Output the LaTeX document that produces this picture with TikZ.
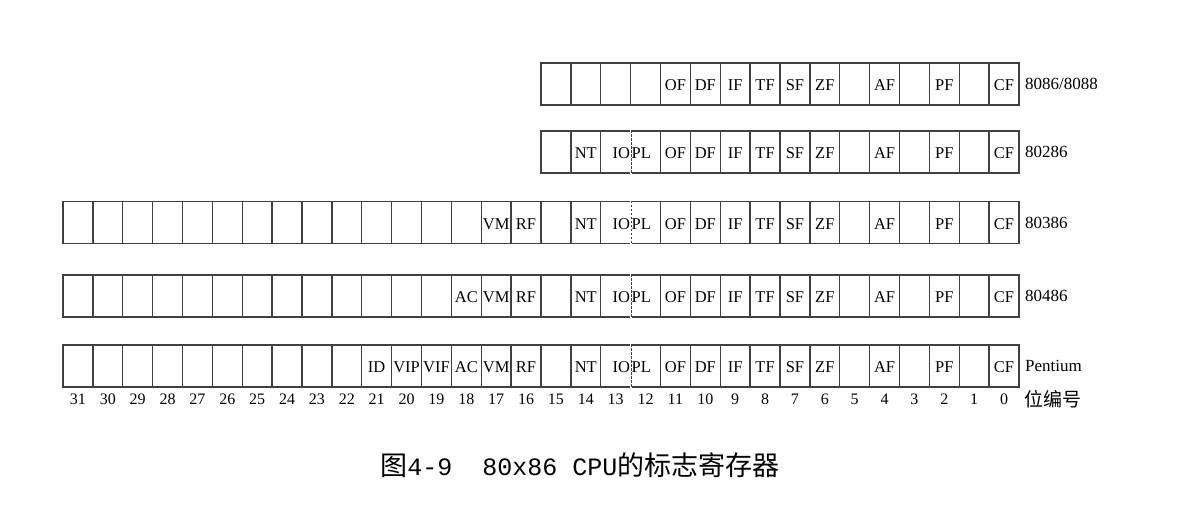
\documentclass[tikz,border=0pt]{standalone}
\usepackage{fontspec}
\setmainfont{Liberation Serif}
\newfontfamily\cjk{Noto Sans CJK SC}
\newfontfamily\capmono{Liberation Mono}
\usetikzlibrary{positioning}

\def\cw{29.875}
\tikzset{
  reg/.style={draw=black!75, line width=1.4pt, minimum width=\cw pt, minimum height=42pt, inner sep=0pt},
  flag/.style={inner sep=0pt, font=\fontsize{16.5}{19}\selectfont, yshift=-1.5pt},
  cpu/.style={anchor=west, inner sep=0pt, font=\fontsize{17}{20}\selectfont},
  bitno/.style={inner sep=0pt, font=\fontsize{16}{19}\selectfont}
}

\begin{document}
\begin{tikzpicture}[x=1pt,y=-1pt]
\useasboundingbox (0,0) rectangle (1178,504);
% register cells, one row per CPU
\foreach \r/\y/\n/\cpuname in {a/84/15/8086\slash8088, b/152/15/80286, c/222.5/31/80386, d/296/31/80486, e/366/31/Pentium}{
  \foreach \b in {0,...,\n}
    \node[reg] (\r-\b) at ({1019-\b*\cw-\cw/2},\y) {};
  \node[cpu] (\r-name) at (1025,\y) {\cpuname};
  \foreach \b/\t in {11/OF,10/DF,9/IF,8/TF,7/SF,6/ZF,4/AF,2/PF,0/CF}
    \node[flag] (\r-t\b) at (\r-\b) {\t};
}
% IOPL and NT from 80286 on
\foreach \r in {b,c,d,e}{
  \node[flag] (\r-t14) at (\r-14) {NT};
  \node[flag, anchor=east, xshift=-1pt] (\r-t13) at (\r-13.east) {IO};
  \node[flag, anchor=west, xshift=1.5pt] (\r-t12) at (\r-12.west) {PL};
  \draw[white, line width=1.8pt] (\r-13.north east) -- (\r-13.south east);
  \draw[black!75, line width=1pt, dashed, dash pattern=on 2.5pt off 1.5pt] (\r-13.north east) -- (\r-13.south east);
}
\foreach \r in {c,d,e}{
  \node[flag] (\r-t17) at (\r-17) {VM};
  \node[flag] (\r-t16) at (\r-16) {RF};
}
\foreach \r in {d,e}
  \node[flag] (\r-t18) at (\r-18) {AC};
\foreach \b/\t in {21/ID,20/VIP,19/VIF}
  \node[flag] (e-t\b) at (e-\b) {\t};
% bit numbers
\foreach \b in {0,...,31}
  \node[bitno] (n\b) at ({1019-\b*\cw-\cw/2},399) {\b};
\node[cpu, font=\cjk\fontsize{19}{22}\selectfont] (bitlabel) at (1024,399) {位编号};
\node[inner sep=0pt] (caption) at (580,465) {{\cjk\fontsize{27}{30}\selectfont 图}{\capmono\fontsize{25}{30}\selectfont 4-9\ \ 80x86 CPU}{\cjk\fontsize{27}{30}\selectfont 的标志寄存器}};
\end{tikzpicture}
\end{document}
